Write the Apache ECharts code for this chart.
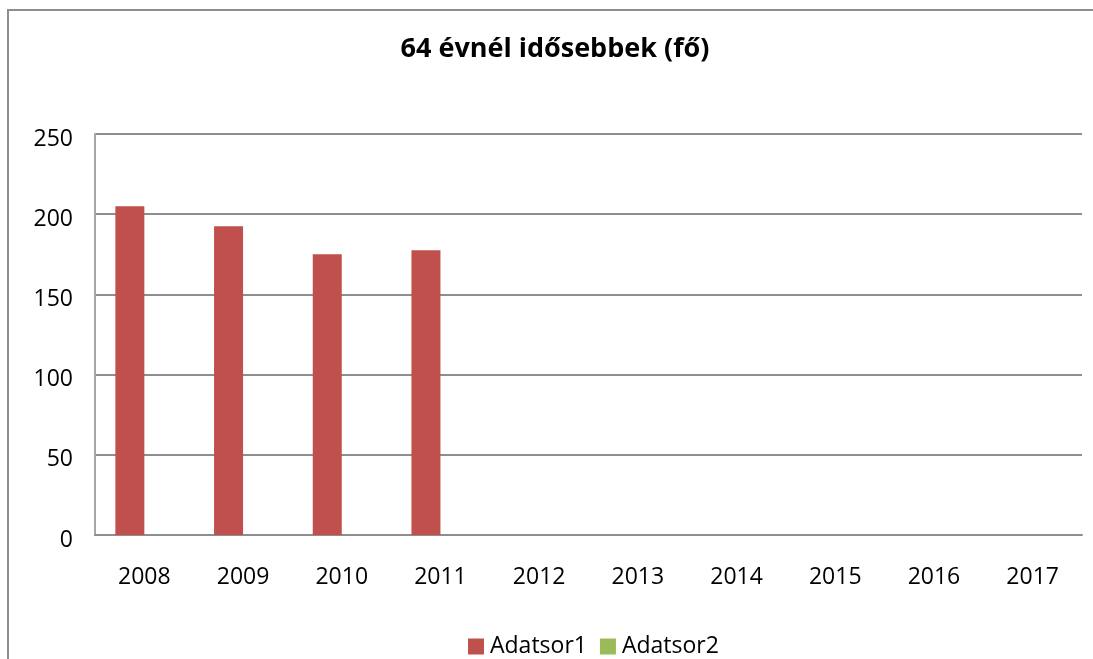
<!DOCTYPE html>
<html>
<head>
<meta charset="utf-8">
<script src="https://cdn.jsdelivr.net/npm/echarts@6/dist/echarts.min.js"></script>
<style>
html,body{margin:0;padding:0;background:#fff;}
#c{width:1093px;height:659px;}
</style>
</head>
<body>
<div id="c"></div>
<script>
const title = '64 évnél idősebbek (fő)';
const categories = ['2008','2009','2010','2011','2012','2013','2014','2015','2016','2017'];
const series1Name = 'Adatsor1';
const series1Values = [205, 192.5, 175, 177.6, null, null, null, null, null, null];
const series2Name = 'Adatsor2';
const series2Values = [null, null, null, null, null, null, null, null, null, null];
const yTicks = { min: 0, max: 250, interval: 50 };

const font = '"Open Sans", "Noto Sans", sans-serif';
const chart = echarts.init(document.getElementById('c'), null, { renderer: 'canvas' });
chart.setOption({
  animation: false,
  backgroundColor: '#fff',
  textStyle: { fontFamily: font, color: '#000' },
  graphic: [{
    type: 'rect',
    shape: { x: 8, y: 10, width: 1300, height: 900 },
    style: { fill: 'none', stroke: '#8e8e8e', lineWidth: 2 },
    silent: true, z: -1
  }],
  title: {
    text: title,
    left: 555, textAlign: 'center', top: 36, padding: 0,
    textStyle: { fontFamily: font, fontWeight: 'bold', fontSize: 27, color: '#000' }
  },
  legend: {
    left: 468, top: 635, padding: 0,
    itemWidth: 16, itemHeight: 16, itemGap: 13,
    icon: 'rect',
    textStyle: { fontFamily: font, fontSize: 23, color: '#000', padding: [0, 0, 0, 1] },
    data: [series1Name, series2Name]
  },
  grid: { left: 95, right: 11, top: 134, bottom: 124, containLabel: false },
  xAxis: {
    type: 'category',
    data: categories,
    axisLine: { lineStyle: { color: '#8e8e8e', width: 2 } },
    axisTick: { show: false },
    axisLabel: { fontFamily: font, fontSize: 23, color: '#000', margin: 31 }
  },
  yAxis: {
    type: 'value',
    min: yTicks.min, max: yTicks.max, interval: yTicks.interval,
    axisLine: { show: true, lineStyle: { color: '#a6a6a6', width: 2 } },
    axisTick: { show: false },
    axisLabel: { fontFamily: font, fontSize: 23, color: '#000', margin: 22, verticalAlign: 'top', lineHeight: 10 },
    splitLine: { lineStyle: { color: '#8e8e8e', width: 2 } }
  },
  series: [
    { name: series1Name, type: 'bar', data: series1Values, barWidth: 29, barGap: '0%', itemStyle: { color: '#C0504D' } },
    { name: series2Name, type: 'bar', data: series2Values, barWidth: 29, itemStyle: { color: '#9BBB59' } }
  ]
});
</script>
</body>
</html>
